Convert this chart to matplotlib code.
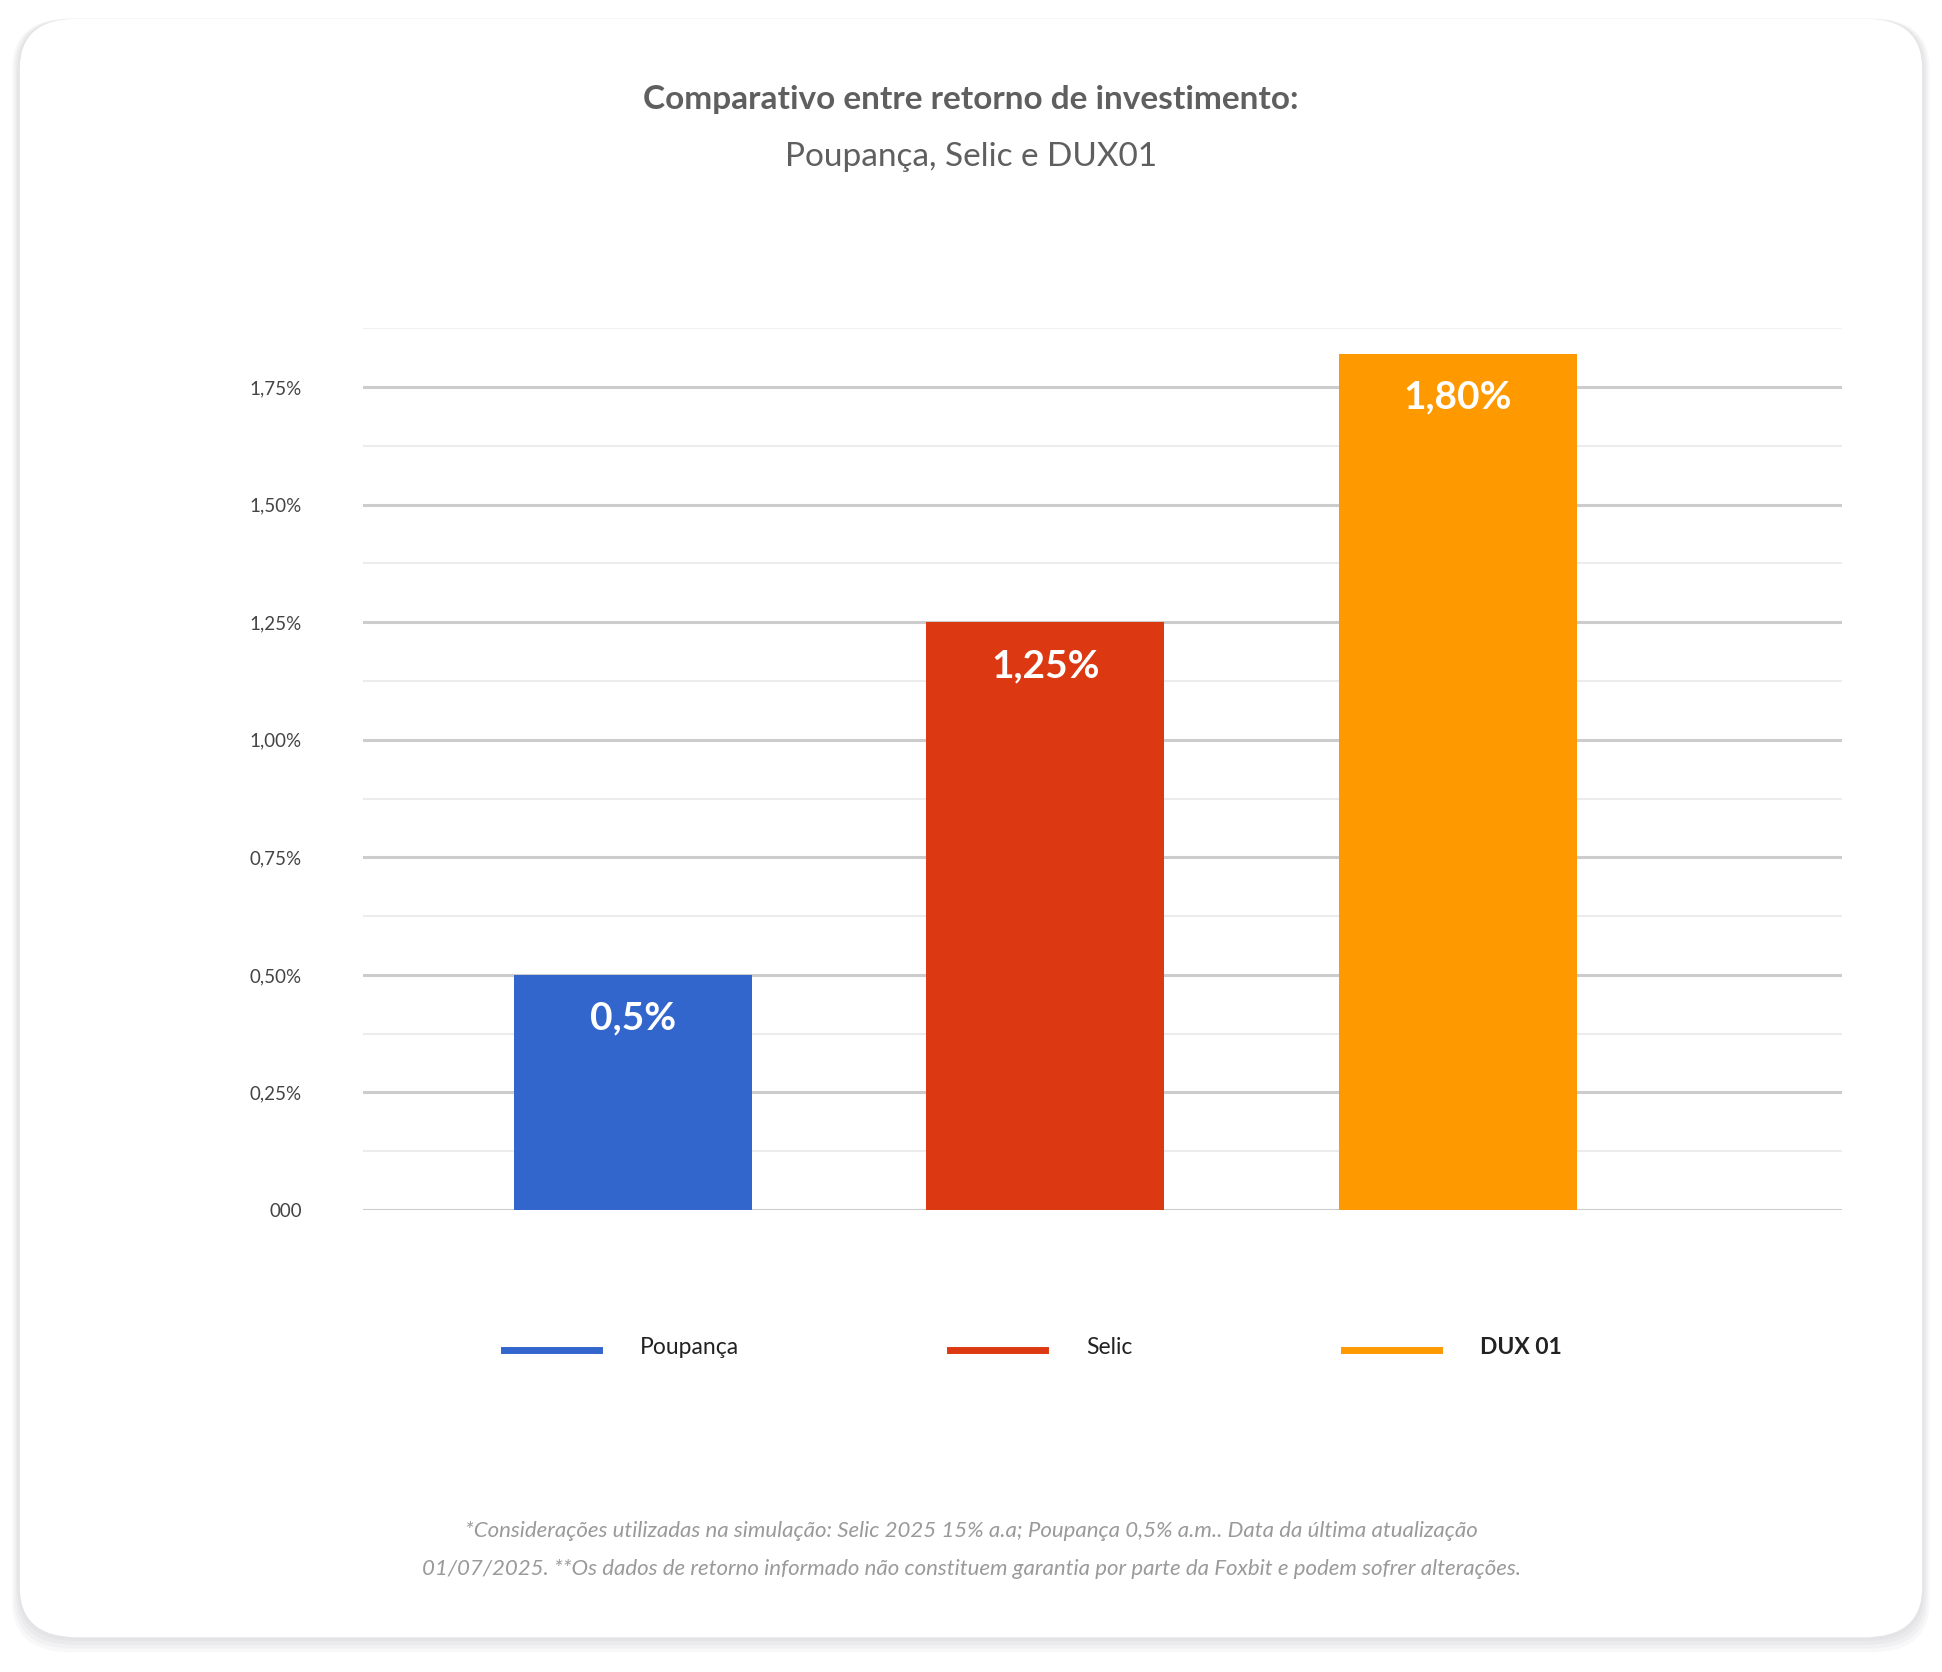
import matplotlib
matplotlib.use("Agg")
import matplotlib.pyplot as plt
from matplotlib.patches import FancyBboxPatch
from matplotlib.lines import Line2D

plt.rcParams["font.family"] = "Lato"

categories = ["Poupança", "Selic", "DUX 01"]
values = [0.5, 1.25, 1.82]
value_labels = ["0,5%", "1,25%", "1,80%"]
colors = ["#3366cc", "#dc3912", "#ff9900"]
yticks = [0, 0.25, 0.5, 0.75, 1.0, 1.25, 1.5, 1.75]
ytick_labels = ["000", "0,25%", "0,50%", "0,75%", "1,00%", "1,25%", "1,50%", "1,75%"]

W, H = 1568, 1350  # layout units (scaled to 1942x1672 output)
fig = plt.figure(figsize=(19.42, 16.72), dpi=100)
fig.patch.set_facecolor("white")

def fx(x): return x / W
def fy(y): return 1 - y / H

# card with soft shadow
for i, a in enumerate([0.05, 0.05, 0.05, 0.05]):
    d = 3 + i * 3
    fig.patches.append(FancyBboxPatch((fx(16 - d / 2), fy(1322 + d)), fx(1536 + d), (1307 + d) / H,
                                      boxstyle="round,pad=0,rounding_size=0.03",
                                      transform=fig.transFigure, fc="#7a7a8a", ec="none", alpha=a, zorder=0))
fig.patches.append(FancyBboxPatch((fx(16), fy(1322)), fx(1536), 1307 / H,
                                  boxstyle="round,pad=0,rounding_size=0.03",
                                  transform=fig.transFigure, fc="white", ec="none", zorder=1))

ax = fig.add_axes([fx(293), fy(977), fx(1487 - 293), (977 - 265) / H], zorder=2)
ax.set_facecolor("none")
ax.set_xlim(-0.655, 2.931)
ax.set_ylim(0, 1.875)
for y in [0.125 * k for k in range(1, 16, 2)]:
    ax.axhline(y, color="#ececec", lw=1.5, zorder=0)
for y in yticks:
    ax.axhline(y, color="#cccccc", lw=2.2, zorder=0)
ax.axhline(1.875, color="#f2f2f2", lw=1.5, zorder=0)

x = range(len(categories))
ax.bar(x, values, width=0.577, color=colors, zorder=3)
for xi, v, lab in zip(x, values, value_labels):
    ax.text(xi, v - 0.055, lab, ha="center", va="top", color="white",
            fontsize=28, fontweight="bold", zorder=4)

ax.set_yticks(yticks)
ax.set_yticklabels(ytick_labels, fontsize=13.5, color="#444444")
ax.tick_params(axis="y", length=0, pad=44)
ax.set_xticks([])
for s in ax.spines.values():
    s.set_visible(False)

fig.text(0.5, fy(80), "Comparativo entre retorno de investimento:", ha="center", va="center",
         fontsize=24, fontweight="bold", color="#5f5f5f", zorder=5)
fig.text(0.5, fy(127), "Poupança, Selic e DUX01", ha="center", va="center",
         fontsize=24, color="#5f5f5f", zorder=5)

# legend
leg_x = [407, 767, 1085]
for lx, name, c, bold in zip(leg_x, categories, colors, [False, False, True]):
    fig.add_artist(Line2D([fx(lx), fx(lx + 77)], [fy(1090), fy(1090)], color=c, lw=5,
                          transform=fig.transFigure, zorder=5))
    fig.text(fx(lx + 110), fy(1088), name, ha="left", va="center", fontsize=16.5,
             color="#222222", fontweight="bold" if bold else "normal", zorder=5)

fig.text(0.5, fy(1236), "*Considerações utilizadas na simulação: Selic 2025 15% a.a; Poupança 0,5% a.m.. Data da última atualização",
         ha="center", va="center", fontsize=16, style="italic", color="#9a9a9a", zorder=5)
fig.text(0.5, fy(1267), "01/07/2025. **Os dados de retorno informado não constituem garantia por parte da Foxbit e podem sofrer alterações.",
         ha="center", va="center", fontsize=16, style="italic", color="#9a9a9a", zorder=5)

fig.savefig("out.png", dpi=100)
